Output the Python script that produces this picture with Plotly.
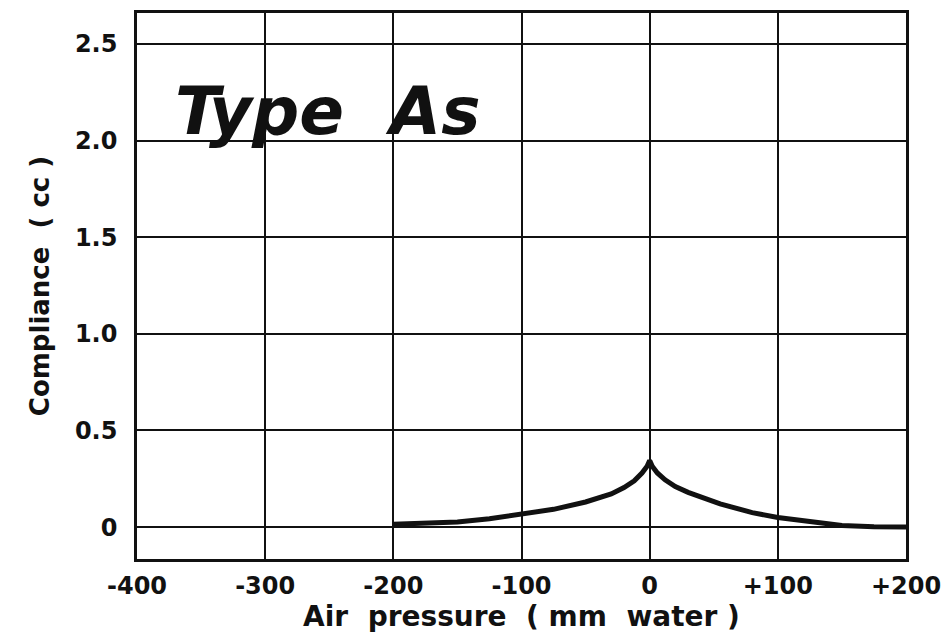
import plotly.graph_objects as go

# Data (Type As tympanogram)
pressure = [-200, -175, -150, -125, -100, -75, -50, -30, -20, -12, -6, -2, 0,
            2, 6, 12, 20, 30, 55, 80, 100, 125, 150, 175, 200]
compliance = [0.015, 0.02, 0.027, 0.043, 0.067, 0.092, 0.13, 0.172, 0.205, 0.24, 0.28, 0.315, 0.345,
              0.315, 0.28, 0.245, 0.21, 0.18, 0.12, 0.075, 0.05, 0.027, 0.008, 0.002, 0.0]

x_tick_vals = [-400, -300, -200, -100, 0, 100, 200]
x_tick_text = ["-400", "-300", "-200", "-100", "0", "+100", "+200"]
y_tick_vals = [0, 0.5, 1.0, 1.5, 2.0, 2.5]
y_tick_text = ["0", "0.5", "1.0", "1.5", "2.0", "2.5"]

FONT = "DejaVu Sans"
INK = "#111111"

fig = go.Figure()
fig.add_trace(go.Scatter(
    x=pressure, y=compliance, mode="lines",
    line=dict(color=INK, width=5),
    showlegend=False, hoverinfo="skip",
))

fig.add_annotation(
    x=-372, y=2.15, xref="x", yref="y",
    text="<b><i>Type\u00a0\u00a0As</i></b>",
    showarrow=False, xanchor="left", yanchor="middle",
    font=dict(family=FONT, size=66, color=INK),
)

fig.update_layout(
    width=951, height=642,
    margin=dict(l=137, r=41, t=10, b=83),
    paper_bgcolor="white", plot_bgcolor="white",
    font=dict(family=FONT, color=INK),
    xaxis=dict(
        range=[-400, 200],
        tickmode="array", tickvals=x_tick_vals, ticktext=x_tick_text,
        tickfont=dict(family=FONT, size=24, weight="bold", color=INK),
        ticks="outside", ticklen=3, tickcolor="rgba(0,0,0,0)",
        showgrid=True, gridcolor=INK, gridwidth=2,
        zeroline=False,
        showline=True, linecolor=INK, linewidth=2.5, mirror=True,
        title=dict(text="Air\u00a0\u00a0pressure\u00a0\u00a0(\u00a0mm\u00a0\u00a0water\u00a0)",
                   font=dict(family=FONT, size=28, weight="bold", color=INK),
                   standoff=2),
    ),
    yaxis=dict(
        range=[-0.165, 2.66],
        tickmode="array", tickvals=y_tick_vals, ticktext=y_tick_text,
        tickfont=dict(family=FONT, size=24, weight="bold", color=INK),
        ticks="outside", ticklen=12, tickcolor="rgba(0,0,0,0)",
        showgrid=True, gridcolor=INK, gridwidth=2,
        zeroline=False,
        showline=True, linecolor=INK, linewidth=2.5, mirror=True,
        title=dict(text="Compliance\u00a0\u00a0(\u00a0cc\u00a0)",
                   font=dict(family=FONT, size=26, weight="bold", color=INK),
                   standoff=18),
    ),
)

fig.write_html(
    "out.html",
    config={"displayModeBar": False},
    post_script="document.body.style.margin='0';document.body.style.overflow='hidden';",
)
